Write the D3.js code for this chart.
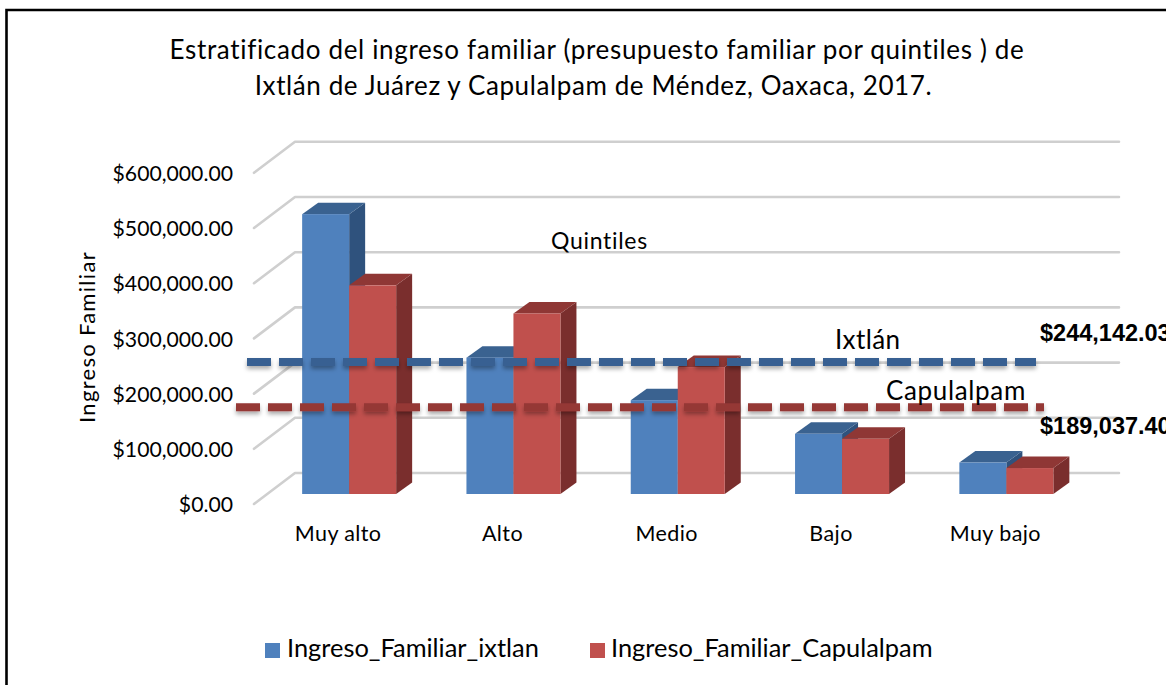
<!DOCTYPE html>
<html><head><meta charset="utf-8">
<script src="https://cdn.jsdelivr.net/npm/d3@7/dist/d3.min.js"></script>
<style>html,body{margin:0;padding:0;background:#fff;overflow:hidden}text{font-family:Lato,Carlito,Calibri,sans-serif;fill:#000}</style>
</head><body><svg id="c" width="1166" height="685"></svg>
<script>
const categories = ["Muy alto","Alto","Medio","Bajo","Muy bajo"];
const seriesNames = ["Ingreso_Familiar_ixtlan","Ingreso_Familiar_Capulalpam"];
const ixtlan = [507000,247000,170000,109000,57000];
const capulalpam = [378000,327000,230000,100000,47000];
const yTicks = [0,100000,200000,300000,400000,500000,600000];
const titleLines = ["Estratificado del ingreso familiar (presupuesto familiar por quintiles ) de","Ixtlán de Juárez y Capulalpam de Méndez, Oaxaca, 2017."];
const lineLevels = [239000,157000];
const lineLabels = ["$244,142.03","$189,037.40"];

const svg = d3.select("#c");
const defs = svg.append("defs");
const sh = defs.append("filter").attr("id","shadow").attr("filterUnits","userSpaceOnUse").attr("x",0).attr("y",0).attr("width",1166).attr("height",685);
sh.append("feDropShadow").attr("dx",0).attr("dy",3).attr("stdDeviation",2).attr("flood-color","#000").attr("flood-opacity",0.33);
const gs = defs.append("filter").attr("id","soft").attr("filterUnits","userSpaceOnUse").attr("x",0).attr("y",0).attr("width",1166).attr("height",685);
gs.append("feGaussianBlur").attr("stdDeviation",0.6);

// frame
svg.append("path").attr("d","M6.5,685V10H1166").attr("fill","none").attr("stroke","#000").attr("stroke-width",2.6);

const y = d3.scaleLinear().domain([0,600000]).range([494,162.8]);
const x0 = d3.scaleBand().domain(categories).range([267,1088.5]);
const barW = 47;
const depth = {x:16,y:-11.5}, front = {x:-13,y:10}, back = {x:28,y:-21};
const rightEnd = 1119;

// grid
const grid = svg.append("g").attr("fill","none").attr("stroke","#cfcfcf").attr("stroke-width",2.6).attr("stroke-linejoin","round").attr("stroke-linecap","round").attr("filter","url(#soft)");
grid.selectAll("path").data(yTicks).join("path")
  .attr("d",d=>{const p=d3.path();p.moveTo(x0.range()[0]+front.x,y(d)+front.y);p.lineTo(x0.range()[0]+back.x,y(d)+back.y);p.lineTo(rightEnd,y(d)+back.y);return p.toString();});

// y axis labels
const yAxis = d3.axisLeft(y).tickValues(yTicks).tickFormat(d3.format("$,.2f")).tickSize(0).tickPadding(0);
const ga = svg.append("g").attr("transform","translate(233,10.5)").call(yAxis);
ga.select(".domain").remove();
ga.selectAll("text").attr("font-size",21.2).style("font-family","Lato,Carlito,sans-serif").attr("dy","0.34em");

// x axis labels
const xAxis = d3.axisBottom(x0).tickSize(0).tickPadding(0);
const gx = svg.append("g").attr("transform","translate(-11,528)").call(xAxis);
gx.select(".domain").remove();
gx.selectAll("text").attr("font-size",21.5).attr("letter-spacing",0.4).style("font-family","Lato,Carlito,sans-serif").attr("dy","0.6em");

// bars
const colors = [{f:"#4F81BD",t:"#3A6290",s:"#2F527D"},{f:"#C0504D",t:"#8F3735",s:"#7A2E2D"}];
const values = [ixtlan,capulalpam];
const barsG = svg.append("g");
categories.forEach((c,i)=>{
  values.forEach((vals,k)=>{
    const cx = x0(c)+x0.bandwidth()/2;
    const xl = cx + (k===0?-barW:0), xr = xl+barW;
    const yt = y(vals[i]), yb = y(0), col = colors[k];
    const g = barsG.append("g");
    g.append("path").attr("fill",col.s).attr("d",`M${xr},${yt}L${xr+depth.x},${yt+depth.y}L${xr+depth.x},${yb+depth.y}L${xr},${yb}Z`);
    g.append("path").attr("fill",col.t).attr("d",`M${xl},${yt}L${xl+depth.x},${yt+depth.y}L${xr+depth.x},${yt+depth.y}L${xr},${yt}Z`);
    g.append("rect").attr("x",xl).attr("y",yt).attr("width",barW).attr("height",yb-yt).attr("fill",col.f);
  });
});

// dashed reference lines
const lineX = [[247,1036],[236,1044]], lineCol = ["#376092","#953735"];
lineLevels.forEach((v,i)=>{
  svg.append("line").attr("x1",lineX[i][0]).attr("x2",lineX[i][1]).attr("y1",y(v)).attr("y2",y(v))
    .attr("stroke",lineCol[i]).attr("stroke-width",8).attr("stroke-dasharray","24 8").attr("filter","url(#shadow)");
});

// texts
const titleX = [597,593.5];
svg.append("g").selectAll("text").data(titleLines).join("text")
  .attr("x",(d,i)=>titleX[i]).attr("y",(d,i)=>59+i*36).attr("text-anchor","middle").attr("font-size",26).attr("letter-spacing",(d,i)=>i?0.6:0.66).text(d=>d);
svg.append("text").attr("transform","translate(94.5,337) rotate(-90)").attr("text-anchor","middle").attr("font-size",22).attr("letter-spacing",1.3).text("Ingreso Familiar");
svg.append("text").attr("x",551).attr("y",249).attr("font-size",23).attr("letter-spacing",0.7).text("Quintiles");
svg.append("text").attr("x",835).attr("y",349).attr("font-size",26).attr("letter-spacing",0.4).text("Ixtlán");
svg.append("text").attr("x",886).attr("y",400).attr("font-size",26).attr("letter-spacing",0.65).text("Capulalpam");
svg.append("g").selectAll("text").data(lineLabels).join("text")
  .attr("x",1040).attr("y",(d,i)=>i?434:341).attr("font-size",23.5).attr("font-weight","bold")
  .style("font-family","'Liberation Sans',Arial,sans-serif").text(d=>d);

// legend
const legX = [265,590], legT = [287,611];
const leg = svg.append("g");
seriesNames.forEach((s,i)=>{
  leg.append("rect").attr("x",legX[i]).attr("y",643).attr("width",15).attr("height",15).attr("fill",colors[i].f);
  leg.append("text").attr("x",legT[i]).attr("y",657).attr("font-size",25.4).text(s);
});
</script></body></html>
